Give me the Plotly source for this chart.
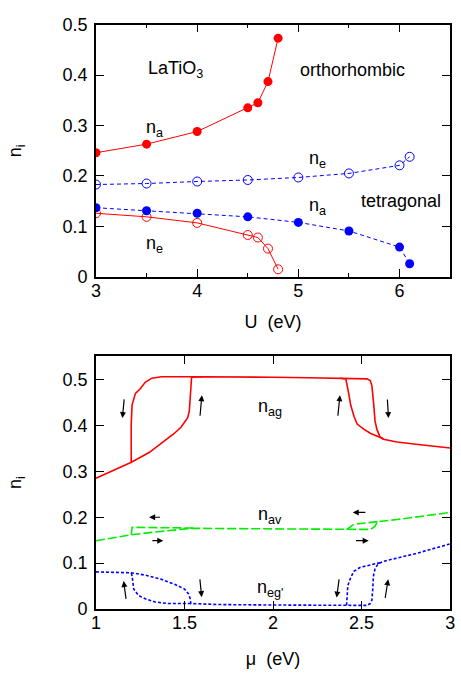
import plotly.graph_objects as go

# ---------------- upper panel: orbital occupancies vs U ----------------
U_ortho = [3.0, 3.5, 4.0, 4.5, 4.6, 4.7, 4.8]
na_ortho = [0.246, 0.263, 0.288, 0.335, 0.345, 0.387, 0.473]
ne_ortho = [0.126, 0.119, 0.107, 0.083, 0.078, 0.056, 0.015]

U_tetra = [3.0, 3.5, 4.0, 4.5, 5.0, 5.5, 6.0, 6.1]
ne_tetra = [0.183, 0.185, 0.189, 0.192, 0.197, 0.205, 0.221, 0.238]
na_tetra = [0.137, 0.131, 0.126, 0.119, 0.108, 0.091, 0.059, 0.026]

# ---------------- lower panel: hysteresis vs chemical potential ----------------
# n_ag: full increasing-mu sweep
mu_ag_up = [1.00, 1.10, 1.20, 1.30, 1.37, 1.44, 1.48, 1.518, 1.527, 1.532, 1.54,
            1.60, 1.80, 2.00, 2.20, 2.40, 2.53, 2.549, 2.558, 2.567, 2.576, 2.586,
            2.604, 2.623, 2.70, 2.807, 2.90, 3.00]
n_ag_up = [0.285, 0.302, 0.320, 0.341, 0.361, 0.382, 0.396, 0.417, 0.431, 0.466, 0.505,
           0.506, 0.506, 0.505, 0.504, 0.503, 0.5015, 0.498, 0.487, 0.452, 0.410, 0.392,
           0.375, 0.370, 0.364, 0.359, 0.355, 0.351]
# n_ag: decreasing-mu return branches (right loop, left loop)
mu_ag_dn_r = [2.623, 2.549, 2.512, 2.475, 2.457, 2.438, 2.429, 2.42, 2.411, 2.38]
n_ag_dn_r = [0.371, 0.383, 0.392, 0.403, 0.420, 0.445, 0.466, 0.487, 0.5015, 0.503]
mu_ag_dn_l = [1.60, 1.45, 1.37, 1.315, 1.278, 1.25, 1.223, 1.204, 1.199, 1.199]
n_ag_dn_l = [0.506, 0.506, 0.506, 0.503, 0.494, 0.480, 0.470, 0.445, 0.403, 0.320]

# n_av: full increasing-mu sweep
mu_av_up = [1.00, 1.199, 1.315, 1.48, 1.54, 1.70, 2.00, 2.20, 2.41, 2.53, 2.55, 2.575,
            2.59, 2.70, 2.807, 3.00]
n_av_up = [0.149, 0.162, 0.167, 0.174, 0.176, 0.1754, 0.1745, 0.1735, 0.1725, 0.1725,
           0.1735, 0.180, 0.1905, 0.195, 0.200, 0.2105]
# n_av: decreasing-mu return branches
mu_av_dn_r = [2.59, 2.567, 2.456, 2.44, 2.42, 2.40]
n_av_dn_r = [0.1905, 0.1894, 0.1845, 0.180, 0.174, 0.1727]
mu_av_dn_l = [1.55, 1.40, 1.204, 1.199]
n_av_dn_l = [0.1765, 0.1775, 0.178, 0.162]

# n_eg': full increasing-mu sweep
mu_eg_up = [1.00, 1.10, 1.199, 1.278, 1.37, 1.444, 1.50, 1.523, 1.532, 1.536, 1.70, 2.00,
            2.41, 2.53, 2.549, 2.558, 2.563, 2.567, 2.576, 2.595, 2.623, 2.807, 3.00]
n_eg_up = [0.081, 0.080, 0.079, 0.074, 0.0647, 0.054, 0.0436, 0.033, 0.0225, 0.012, 0.0098,
           0.0088, 0.007, 0.008, 0.012, 0.019, 0.0436, 0.072, 0.088, 0.099, 0.104, 0.121, 0.142]
# n_eg': decreasing-mu return branches
mu_eg_dn_r = [2.604, 2.549, 2.493, 2.456, 2.438, 2.422, 2.416, 2.415]
n_eg_dn_r = [0.101, 0.0964, 0.091, 0.082, 0.068, 0.0507, 0.020, 0.007]
mu_eg_dn_l = [1.536, 1.407, 1.333, 1.278, 1.24, 1.213, 1.204, 1.199]
n_eg_dn_l = [0.012, 0.012, 0.0155, 0.0225, 0.0296, 0.0436, 0.072, 0.079]

# sweep-direction arrows: (tail_mu, tail_n, head_mu, head_n)
arrows = [
    (1.160, 0.460, 1.149, 0.416), (1.587, 0.418, 1.598, 0.466),
    (2.365, 0.418, 2.378, 0.466), (2.645, 0.460, 2.652, 0.416),
    (1.370, 0.200, 1.300, 0.200), (1.310, 0.149, 1.380, 0.149),
    (2.530, 0.2105, 2.450, 0.2105), (2.460, 0.149, 2.540, 0.149),
    (1.171, 0.019, 1.156, 0.061), (1.586, 0.068, 1.597, 0.026),
    (2.374, 0.068, 2.359, 0.025), (2.632, 0.021, 2.650, 0.065),
]

RED, BLUE, GREEN = "#ff0000", "#0000ff", "#00ee00"
FONT = "Liberation Sans, Arial, sans-serif"
FS = 18

fig = go.Figure()

# upper panel traces
fig.add_trace(go.Scatter(x=U_ortho, y=na_ortho, mode="lines+markers", xaxis="x", yaxis="y",
                         line=dict(color=RED, width=1),
                         marker=dict(symbol="circle", size=9, color=RED)))
fig.add_trace(go.Scatter(x=U_ortho, y=ne_ortho, mode="lines+markers", xaxis="x", yaxis="y",
                         line=dict(color=RED, width=1),
                         marker=dict(symbol="circle-open", size=9, color=RED, line=dict(width=1))))
fig.add_trace(go.Scatter(x=U_tetra, y=ne_tetra, mode="lines+markers", xaxis="x", yaxis="y",
                         line=dict(color=BLUE, width=1, dash="4px,3px"),
                         marker=dict(symbol="circle-open", size=9, color=BLUE, line=dict(width=1))))
fig.add_trace(go.Scatter(x=U_tetra, y=na_tetra, mode="lines+markers", xaxis="x", yaxis="y",
                         line=dict(color=BLUE, width=1, dash="4px,3px"),
                         marker=dict(symbol="circle", size=9, color=BLUE)))

# lower panel traces
for xs, ys in [(mu_ag_up, n_ag_up), (mu_ag_dn_r, n_ag_dn_r), (mu_ag_dn_l, n_ag_dn_l)]:
    fig.add_trace(go.Scatter(x=xs, y=ys, mode="lines", xaxis="x2", yaxis="y2",
                             line=dict(color=RED, width=1.6)))
for xs, ys in [(mu_av_up, n_av_up), (mu_av_dn_r, n_av_dn_r), (mu_av_dn_l, n_av_dn_l)]:
    fig.add_trace(go.Scatter(x=xs, y=ys, mode="lines", xaxis="x2", yaxis="y2",
                             line=dict(color=GREEN, width=1.6, dash="9px,3px")))
for xs, ys in [(mu_eg_up, n_eg_up), (mu_eg_dn_r, n_eg_dn_r), (mu_eg_dn_l, n_eg_dn_l)]:
    fig.add_trace(go.Scatter(x=xs, y=ys, mode="lines", xaxis="x2", yaxis="y2",
                             line=dict(color=BLUE, width=1.6, dash="3px,2px")))

annotations = []
for tx, ty, hx, hy in arrows:
    annotations.append(dict(x=hx, y=hy, ax=tx, ay=ty, xref="x2", yref="y2", axref="x2",
                            ayref="y2", text="", showarrow=True, arrowhead=2, arrowsize=1,
                            arrowwidth=1.2, arrowcolor="black"))


def label(text, x, y, ax):
    annotations.append(dict(text=text, x=x, y=y, xref="x" if ax == 1 else "x2",
                            yref="y" if ax == 1 else "y2", showarrow=False,
                            font=dict(family=FONT, size=FS, color="black")))


label("LaTiO<sub>3</sub>", 3.79, 0.41, 1)
label("orthorhombic", 5.54, 0.41, 1)
label("n<sub>a</sub>", 3.58, 0.295, 1)
label("n<sub>e</sub>", 3.58, 0.065, 1)
label("n<sub>e</sub>", 5.19, 0.232, 1)
label("n<sub>a</sub>", 5.19, 0.139, 1)
label("tetragonal", 6.01, 0.151, 1)
label("n<sub>ag</sub>", 1.98, 0.44, 2)
label("n<sub>av</sub>", 1.98, 0.204, 2)
label("n<sub>eg'</sub>", 1.98, 0.045, 2)

axis_common = dict(showline=True, linecolor="black", linewidth=1.5, mirror="ticks",
                   ticks="inside", ticklen=8, tickwidth=1, tickcolor="black",
                   showgrid=False, zeroline=False,
                   tickfont=dict(family=FONT, size=FS, color="black"),
                   title_font=dict(family=FONT, size=FS, color="black"))

W, H = 461, 677
fig.update_layout(
    width=W, height=H, margin=dict(l=0, r=0, t=0, b=0),
    paper_bgcolor="white", plot_bgcolor="white", showlegend=False,
    annotations=annotations,
    xaxis=dict(axis_common, domain=[93 / W, 455 / W], range=[3, 6.5], dtick=1, anchor="y",
               ticklabelstandoff=-3,
               minor=dict(ticks="inside", dtick=0.5, ticklen=4, tickcolor="black"),
               title=dict(text="U  (eV)", standoff=15)),
    yaxis=dict(axis_common, domain=[1 - 275 / H, 1 - 15 / H], range=[0, 0.5], dtick=0.1,
               anchor="x", ticklabelstandoff=3,
               title=dict(text="n<sub>i</sub>", standoff=36)),
    xaxis2=dict(axis_common, domain=[93 / W, 455 / W], range=[1, 3], dtick=0.5, anchor="y2",
                ticklabelstandoff=-3, title=dict(text="μ  (eV)", standoff=20)),
    yaxis2=dict(axis_common, domain=[1 - 617.3 / H, 1 - 356.7 / H], range=[0, 0.551],
                dtick=0.1, anchor="x2", ticklabelstandoff=3,
                title=dict(text="n<sub>i</sub>", standoff=36)),
)

fig.write_html("out.html")
